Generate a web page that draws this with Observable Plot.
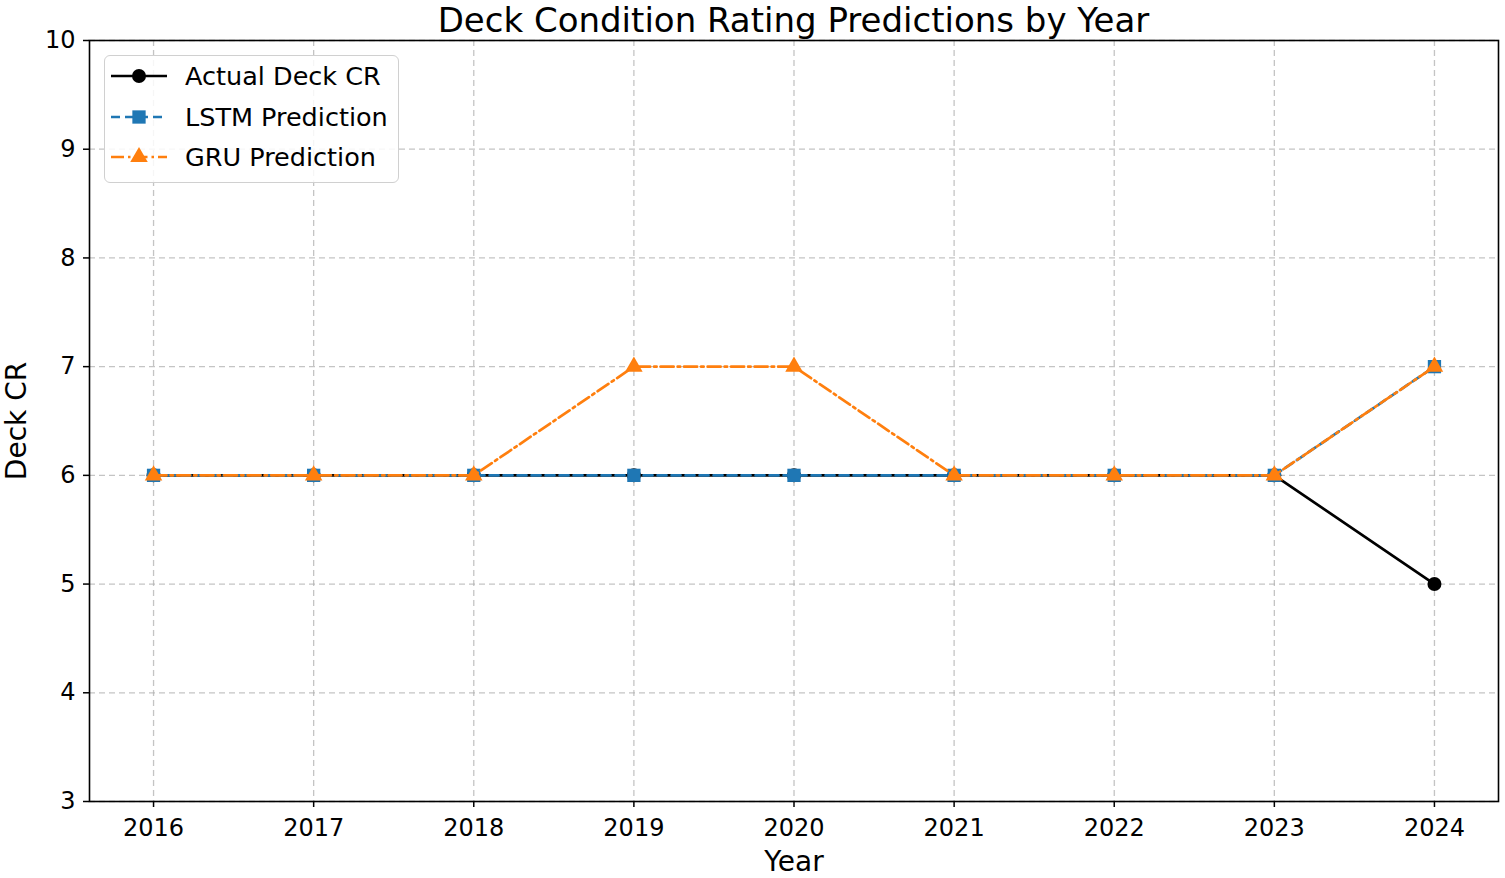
<!DOCTYPE html>
<html>
<head>
<meta charset="utf-8">
<script src="https://cdn.jsdelivr.net/npm/d3@7"></script>
<script src="https://cdn.jsdelivr.net/npm/@observablehq/plot@0.6"></script>
<style>
  html, body { margin: 0; padding: 0; background: white; }
  #wrap { position: relative; width: 1505px; height: 878px; font-family: "DejaVu Sans", sans-serif; }
  #title { position: absolute; left: 80px; width: 1427px; top: 0px; line-height: normal; text-align: center; font-size: 34px; color: black; white-space: nowrap; }
  #legend { position: absolute; left: 104px; top: 55px; width: 293px; height: 126px; border: 1.5px solid #d0d0d0; border-radius: 6px; background: rgba(255,255,255,0.85); box-sizing: content-box; }
  .row { position: absolute; left: 0; height: 30px; display: flex; align-items: center; }
  .row span { font-size: 25.5px; margin-left: 18px; color: black; white-space: nowrap; }
</style>
</head>
<body>
<div id="wrap">
  <div id="chart"></div>
  <div id="title">Deck Condition Rating Predictions by Year</div>
  <div id="legend"></div>
</div>
<script>
const years = [2016, 2017, 2018, 2019, 2020, 2021, 2022, 2023, 2024];
const actualCR = [6, 6, 6, 6, 6, 6, 6, 6, 5];
const lstmPred = [6, 6, 6, 6, 6, 6, 6, 6, 7];
const gruPred  = [6, 6, 6, 7, 7, 6, 6, 6, 7];
const yTicks = [3, 4, 5, 6, 7, 8, 9, 10];
const seriesNames = ["Actual Deck CR", "LSTM Prediction", "GRU Prediction"];
const seriesColors = ["#000000", "#1f77b4", "#ff7f0e"];
const seriesSymbols = ["circle", "square", "triangle"];
const seriesDash = [null, "9,5", "13,4,2.5,4"];
const seriesR = [7, 7.5, 6.5];

const allValues = [actualCR, lstmPred, gruPred];
const data = allValues.map((vals, i) => years.map((y, j) => ({year: y, value: vals[j], series: seriesNames[i]})));

const lineMarks = [];
data.forEach((d, i) => {
  lineMarks.push(Plot.line(d, {x: "year", y: "value", stroke: seriesColors[i], strokeWidth: 2.7, strokeDasharray: seriesDash[i]}));
  lineMarks.push(Plot.dot(d, {x: "year", y: "value", fill: seriesColors[i], stroke: "none", symbol: seriesSymbols[i], r: seriesR[i]}));
});

const chart = Plot.plot({
  width: 1505,
  height: 878,
  marginLeft: 89,
  marginRight: 7,
  marginTop: 40,
  marginBottom: 77,
  style: {fontFamily: "DejaVu Sans", fontSize: "24px", color: "black", background: "white"},
  x: {domain: [2015.6, 2024.4]},
  y: {domain: [3, 10]},
  marks: [
    Plot.gridX(years, {stroke: "#b0b0b0", strokeOpacity: 0.75, strokeWidth: 1.3, strokeDasharray: "6,4"}),
    Plot.gridY(yTicks, {stroke: "#b0b0b0", strokeOpacity: 0.75, strokeWidth: 1.3, strokeDasharray: "6,4"}),
    Plot.axisX(years, {tickFormat: d => String(d), tickSize: 6, tickPadding: 11, label: null, fontSize: 24, strokeWidth: 1.5}),
    Plot.axisY(yTicks, {tickFormat: d => String(d), tickSize: 6, tickPadding: 8, label: null, fontSize: 24, strokeWidth: 1.5}),
    ...lineMarks,
    Plot.frame({stroke: "black", strokeWidth: 1.6}),
    Plot.text(["Year"], {frameAnchor: "bottom", dy: 61, textAnchor: "middle", lineAnchor: "middle", fontSize: 28, fill: "black"}),
    Plot.text(["Deck CR"], {frameAnchor: "left", dx: -72, rotate: -90, textAnchor: "middle", lineAnchor: "middle", fontSize: 28, fill: "black"})
  ]
});
document.getElementById("chart").appendChild(chart);

// Legend
const legend = document.getElementById("legend");
const rowTops = [5, 46, 86];
seriesNames.forEach((name, i) => {
  const row = document.createElement("div");
  row.className = "row";
  row.style.top = rowTops[i] + "px";
  row.style.left = "6px";
  const svg = d3.create("svg").attr("width", 56).attr("height", 30);
  svg.append("line").attr("x1", 0).attr("x2", 56).attr("y1", 15).attr("y2", 15)
    .attr("stroke", seriesColors[i]).attr("stroke-width", 2.7)
    .attr("stroke-dasharray", seriesDash[i]);
  const sym = {circle: d3.symbolCircle, square: d3.symbolSquare, triangle: d3.symbolTriangle}[seriesSymbols[i]];
  svg.append("path").attr("transform", "translate(28,15)")
    .attr("d", d3.symbol(sym, Math.PI * seriesR[i] * seriesR[i])())
    .attr("fill", seriesColors[i]);
  row.appendChild(svg.node());
  const span = document.createElement("span");
  span.textContent = name;
  row.appendChild(span);
  legend.appendChild(row);
});
</script>
</body>
</html>
